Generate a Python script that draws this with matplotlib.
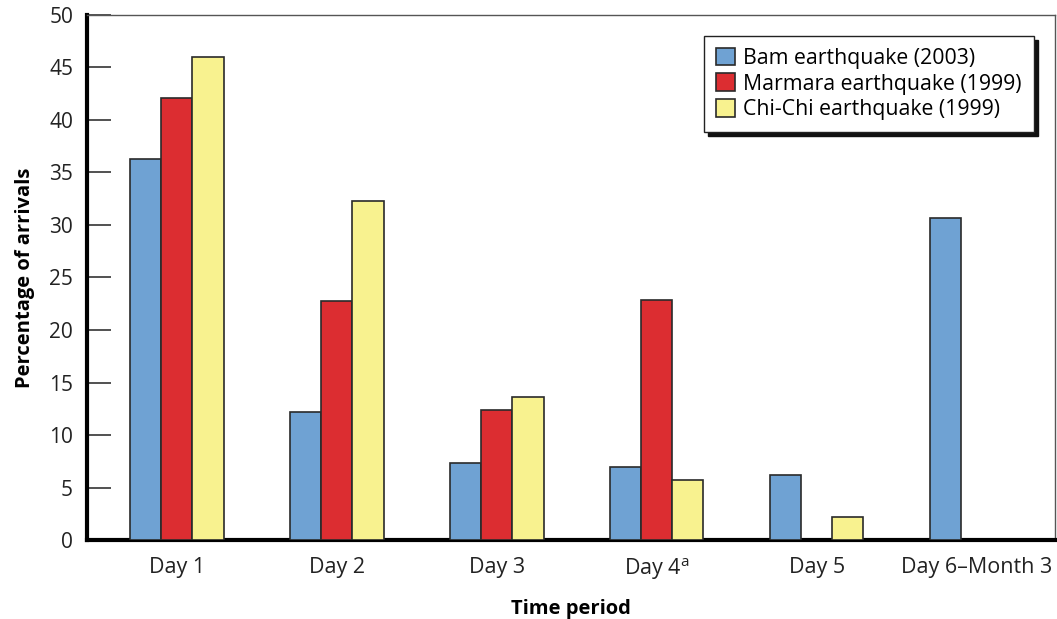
import numpy as np
import matplotlib
matplotlib.use('Agg')
import matplotlib.pyplot as plt

plt.rcParams['font.family'] = ['Open Sans', 'DejaVu Sans']
plt.rcParams['mathtext.fontset'] = 'custom'
plt.rcParams['mathtext.rm'] = 'Open Sans'

periods = ['Day 1', 'Day 2', 'Day 3', 'Day 4$^{\\mathrm{a}}$', 'Day 5', 'Day 6\u2013Month 3']
series_names = ['Bam earthquake (2003)', 'Marmara earthquake (1999)', 'Chi-Chi earthquake (1999)']
bam = [36.3, 12.2, 7.3, 7.0, 6.2, 30.7]
marmara = [42.1, 22.8, 12.4, 22.9, np.nan, np.nan]
chichi = [46.0, 32.3, 13.6, 5.7, 2.2, np.nan]
colors = ['#6FA2D3', '#DC2D31', '#F8F28F']

fig = plt.figure(figsize=(10.57, 6.19), dpi=100)
ax = fig.add_axes([0.0823, 0.1276, 0.9157, 0.8482])

x = np.arange(len(periods))
w = 0.194
for i, (vals, name, c) in enumerate(zip([bam, marmara, chichi], series_names, colors)):
    ax.bar(x + (i - 1) * w, vals, w, color=c, edgecolor='#2a2a2a', linewidth=1.2,
           label=name, zorder=3)

ax.set_xlim(-0.5625, 5.4875)
ax.set_ylim(0, 50)
ax.set_yticks(np.arange(0, 51, 5))
ax.set_xticks(x)
ax.set_xticklabels(periods, fontsize=15.5, color='#222222')
ax.tick_params(axis='x', length=0, pad=12)
ax.tick_params(axis='y', direction='in', length=17, width=1.2, color='#333333',
               labelsize=15, labelcolor='#222222', pad=10)

for s in ['left', 'bottom']:
    ax.spines[s].set_linewidth(3)
    ax.spines[s].set_color('black')
for s in ['top', 'right']:
    ax.spines[s].set_linewidth(1)
    ax.spines[s].set_color('#555555')

ax.set_ylabel('Percentage of arrivals', fontsize=14.5, fontweight='bold', labelpad=10)
ax.set_xlabel('Time period', fontsize=14.5, fontweight='bold', labelpad=12)

leg = ax.legend(loc='upper right', bbox_to_anchor=(0.978, 0.96), fontsize=15.3,
                frameon=True, fancybox=False, edgecolor='#222222',
                shadow={'ox': 3, 'oy': -3, 'color': '#111111', 'alpha': 1},
                handlelength=0.9, handleheight=0.9, handletextpad=0.4,
                labelspacing=0.22, borderpad=0.55, borderaxespad=0)
leg.get_frame().set_linewidth(1)
leg.get_frame().set_alpha(1)

fig.savefig('out.png', dpi=100)
